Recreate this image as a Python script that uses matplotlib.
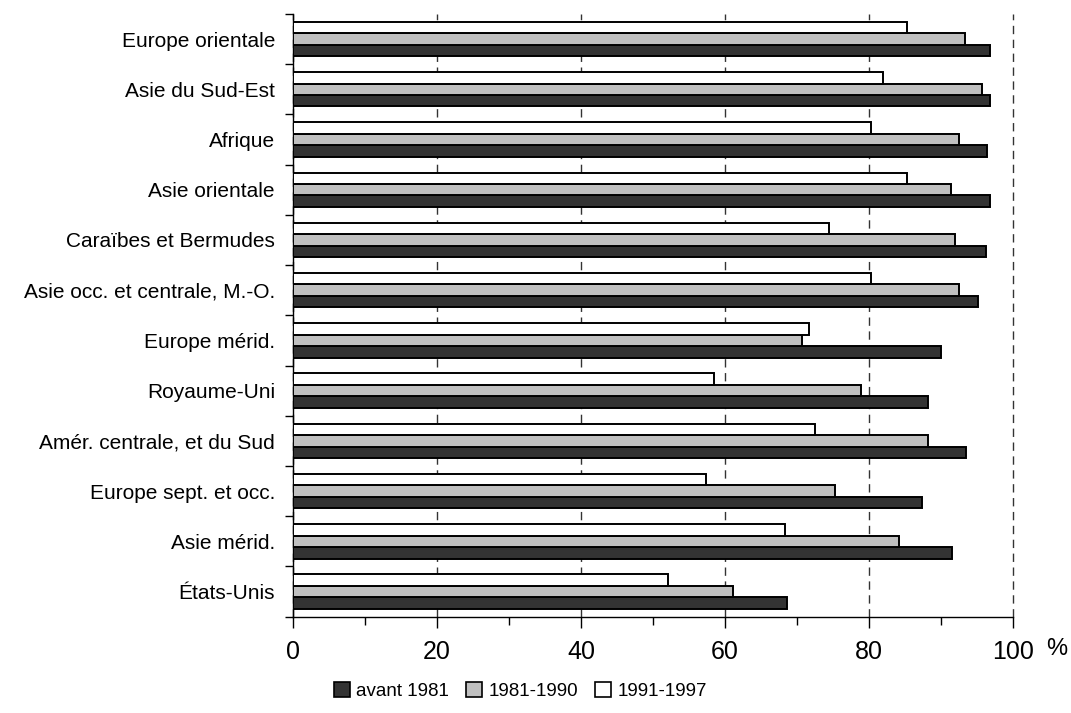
import matplotlib
matplotlib.use("Agg")
import matplotlib.pyplot as plt
import matplotlib.patches as mpatches
import numpy as np

# data, top to bottom as shown
categories = [
    "Europe orientale",
    "Asie du Sud-Est",
    "Afrique",
    "Asie orientale",
    "Caraïbes et Bermudes",
    "Asie occ. et centrale, M.-O.",
    "Europe mérid.",
    "Royaume-Uni",
    "Amér. centrale, et du Sud",
    "Europe sept. et occ.",
    "Asie mérid.",
    "États-Unis",
]
avant_1981 = [96.7, 96.7, 96.4, 96.7, 96.2, 95.1, 90.0, 88.1, 93.4, 87.3, 91.5, 68.6]
p_1981_1990 = [93.3, 95.6, 92.5, 91.3, 91.9, 92.5, 70.7, 78.8, 88.1, 75.3, 84.2, 61.1]
p_1991_1997 = [85.3, 81.9, 80.2, 85.3, 74.4, 80.2, 71.6, 58.5, 72.5, 57.4, 68.3, 52.1]
series_labels = ["avant 1981", "1981-1990", "1991-1997"]
x_ticks = [0, 20, 40, 60, 80, 100]

plt.rcParams['font.family'] = ['Liberation Sans', 'DejaVu Sans']

fig = plt.figure(figsize=(10.71, 7.13), dpi=100)
ax = fig.add_axes([0.2736, 0.1351, 0.6725, 0.8453])

y = np.arange(len(categories))
h = 0.228
colors = ['#333333', '#c0c0c0', '#ffffff']
ax.barh(y + h, avant_1981, height=h, color=colors[0], edgecolor='black', linewidth=1.4, zorder=3)
ax.barh(y, p_1981_1990, height=h, color=colors[1], edgecolor='black', linewidth=1.4, zorder=3)
ax.barh(y - h, p_1991_1997, height=h, color=colors[2], edgecolor='black', linewidth=1.4, zorder=3)

ax.set_xlim(0, 100)
ax.set_ylim(len(categories) - 0.5, -0.5)

# x axis
ax.set_xticks(x_ticks)
ax.set_xticks(np.arange(10, 100, 20), minor=True)
ax.tick_params(axis='x', which='major', length=8, width=1, direction='out', labelsize=18, pad=9)
ax.tick_params(axis='x', which='minor', length=6, width=1, direction='out')
ax.xaxis.grid(True, which='major', linestyle=(0, (6, 4)), color='#333333', linewidth=1)
for gl in ax.get_xgridlines():
    gl.set_clip_on(False)
ax.set_axisbelow(True)

# y axis: labels at centres, tick marks between groups
ax.set_yticks(y)
ax.set_yticklabels(categories)
ax.set_yticks(np.arange(-0.5, len(categories)), minor=True)
ax.tick_params(axis='y', which='major', length=0, labelsize=15, pad=13)
ax.tick_params(axis='y', which='minor', length=6, width=1, direction='out')

for s in ['top', 'right']:
    ax.spines[s].set_visible(False)
for s in ['left', 'bottom']:
    ax.spines[s].set_linewidth(1)
    ax.spines[s].set_color('black')

fig.text(1046 / 1071, 1 - 638 / 713, "%", fontsize=17, ha='left', va='top')

handles = [mpatches.Patch(facecolor=c, edgecolor='black', linewidth=1.2) for c in colors]
fig.legend(handles, series_labels, loc='center', bbox_to_anchor=(0.486, 0.031),
           ncol=3, frameon=False, handlelength=0.85, handleheight=0.85,
           handletextpad=0.35, columnspacing=0.9, fontsize=13.5)

fig.savefig("out.png", dpi=100)
